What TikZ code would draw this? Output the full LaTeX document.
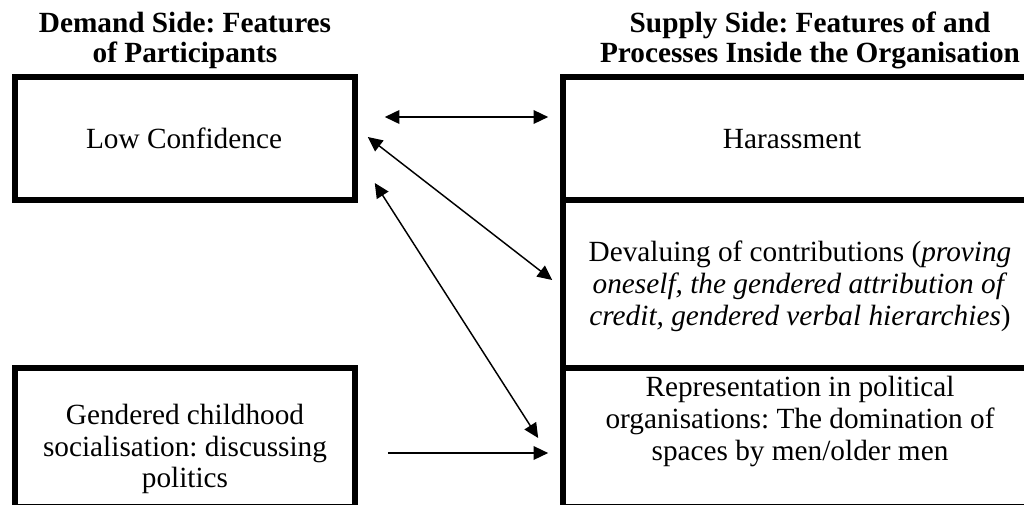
\documentclass[tikz,border=0pt]{standalone}
\usepackage{fontspec}
\setmainfont{Liberation Serif}
\usepackage{tikz}
\usetikzlibrary{positioning,calc,arrows.meta}
\frenchspacing
\pgfkeys{tikz/mybox/.style={draw,line width=2.3pt,inner sep=0pt}}
\pgfkeys{tikz/mytext/.style={align=center,inner sep=0pt,font=\fontsize{12}{13}\selectfont}}
\pgfkeys{tikz/myhead/.style={align=center,inner sep=0pt,font=\fontsize{12}{12.3}\selectfont\bfseries}}
\pgfkeys{tikz/myarrow/.style={line width=0.6pt,{Triangle[length=6pt,width=5.6pt]}-{Triangle[length=6pt,width=5.6pt]}}}
\pgfkeys{tikz/myarrowone/.style={line width=0.6pt,-{Triangle[length=6pt,width=5.6pt]}}}
\newcommand\myleftwidth{139.3pt}
\newcommand\myrightwidth{195.5pt}

\begin{document}
\begin{tikzpicture}[x=0.4098pt,y=-0.4098pt]
    \useasboundingbox (0,0) rectangle (1024,504);
    % demand side
    \node[mybox,minimum width=\myleftwidth,minimum height=50.4pt] (conf) at (185,138.5) {};
    \node[mybox,minimum width=\myleftwidth,minimum height=56.9pt] (soc) at (185,437.5) {};
    \node[mytext,anchor=base] (conftext) at (184,148) {Low Confidence};
    \node[mytext] (soctext) at (185,449) {Gendered childhood\\socialisation: discussing\\politics};
    \node[myhead,above=2pt of conf] (demand) {Demand Side: Features\\of Participants};
    % supply side
    \node[mybox,minimum width=\myrightwidth,minimum height=50.4pt] (har) at (801.5,138.5) {};
    \node[mybox,minimum width=\myrightwidth,minimum height=68.85pt] (dev) at (801.5,284) {};
    \node[mybox,minimum width=\myrightwidth,minimum height=56.9pt] (rep) at (801.5,437.5) {};
    \node[mytext,anchor=base] (hartext) at (792,148) {Harassment};
    \node[mytext] (devtext) at (800,286.5) {Devaluing of contributions (\textit{proving}\\\textit{oneself, the gendered attribution of}\\\textit{credit, gendered verbal hierarchies})};
    \node[mytext] (reptext) at (800,421.5) {Representation in political\\organisations: The domination of\\spaces by men/older men};
    \node[myhead,above=2pt of har,xshift=3.5pt] (supply) {Supply Side: Features of and\\Processes Inside the Organisation};
    % links
    \draw[myarrow] ($(conf.east)+(27,-21.5)$) -- ($(har.west)+(-12,-21.5)$);
    \draw[myarrow] ($(conf.east)+(10,-1.5)$) -- ($(dev.west)+(-8,-4)$);
    \draw[myarrow] ($(conf.east)+(17,44.5)$) -- ($(rep.west)+(-22,0.5)$);
    \draw[myarrowone] ($(soc.east)+(30,15.5)$) -- ($(rep.west)+(-12,15.5)$);
\end{tikzpicture}
\end{document}
